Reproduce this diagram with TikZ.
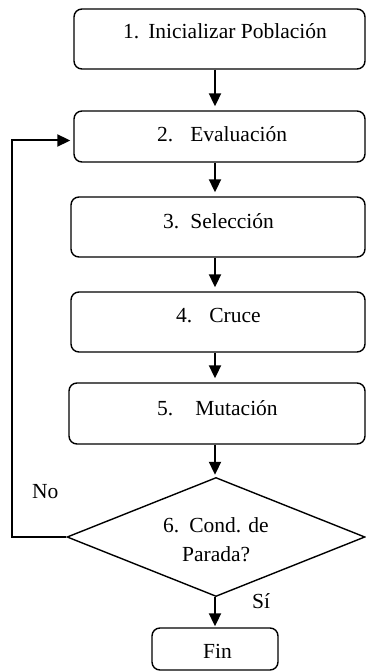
\documentclass[tikz,border=0pt]{standalone}
\usepackage{fontspec}
\setmainfont{Liberation Serif}
\usetikzlibrary{shapes.geometric,arrows.meta,calc}
\tikzset{
  box/.style={draw, line width=1.4pt, rounded corners=8pt, inner sep=0pt},
  dia/.style={draw, line width=1.4pt, diamond, inner sep=0pt, minimum width=298pt, minimum height=119pt},
  txt/.style={anchor=base west, inner sep=0pt, font=\fontsize{21.5}{24}\selectfont},
  arr/.style={line width=2pt, -{Triangle[length=13pt,width=12pt]}, shorten >=4pt}
}
\begin{document}
\begin{tikzpicture}[x=1pt,y=-1pt]
\useasboundingbox (0,0) rectangle (366,671);
\node[box, minimum width=291pt, minimum height=60pt] (b1) at (219.5,39) {};
\node[box, minimum width=291pt, minimum height=51pt] (b2) at (219.5,136.5) {};
\node[box, minimum width=294pt, minimum height=60pt] (b3) at (218,227) {};
\node[box, minimum width=294pt, minimum height=60pt] (b4) at (218,322) {};
\node[box, minimum width=296pt, minimum height=61pt] (b5) at (217,413.5) {};
\node[dia] (d) at (216,537) {};
\node[box, minimum width=126pt, minimum height=42pt] (fin) at (215,649) {};

\node[txt] (t1) at (123,39) {1.\hspace{9pt}Inicializar Población};
\node[txt] (t2) at (157,142) {2.\hspace{17pt}Evaluación};
\node[txt] (t3) at (163,228) {3.\hspace{11pt}Selección};
\node[txt] (t4) at (176,322) {4.\hspace{17pt}Cruce};
\node[txt] (t5) at (157,415) {5.\hspace{22pt}Mutación};
\node[txt] (t6a) at (163,532) {6.\hspace{10pt}Cond. de};
\node[txt] (t6b) at (182,561) {Parada?};
\node[txt] (tno) at (32,498) {No};
\node[txt] (tsi) at (252,608) {Sí};
\node[txt] (tfin) at (203,658) {Fin};

\draw[arr] (b1.south -| 215,0) -- (b2.north -| 215,0);
\draw[arr] (b2.south -| 215,0) -- (b3.north -| 215,0);
\draw[arr] (b3.south -| 215,0) -- (b4.north -| 215,0);
\draw[arr] (b4.south -| 215,0) -- (b5.north -| 215,0);
\draw[arr, shorten >=2pt] (b5.south -| 215,0) -- (d.north -| 215,0);
\draw[arr, shorten >=1pt] (d.south -| 215,0) -- (fin.north);
\coordinate (fb) at (12,537);
\draw[arr, shorten >=3pt] (d.west) -- (fb) |- ([yshift=-4pt]b2.west);
\end{tikzpicture}
\end{document}
